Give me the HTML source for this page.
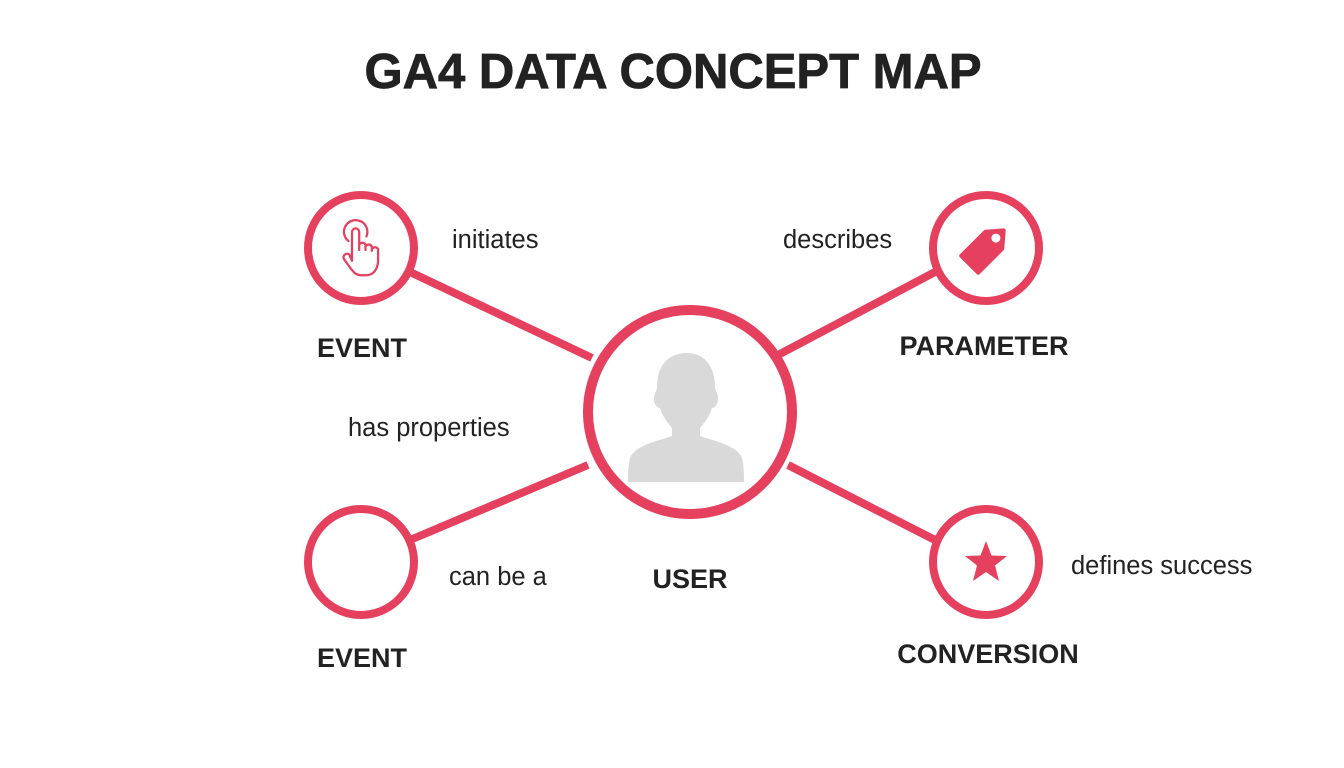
<!DOCTYPE html>
<html><head><meta charset="utf-8"><style>
html,body{margin:0;padding:0;background:#fff;}
svg{display:block}
text{font-family:"Liberation Sans",sans-serif;fill:#222}
</style></head><body>
<svg width="1344" height="768" viewBox="0 0 1344 768">
<text x="673" y="88" text-anchor="middle" font-size="49" font-weight="bold" fill="#222" stroke="#222" stroke-width="0.8">GA4 DATA CONCEPT MAP</text>
<g stroke="#e5405e" stroke-width="8" fill="none">
<line x1="410" y1="272" x2="592" y2="358"/>
<line x1="778" y1="355" x2="935" y2="272"/>
<line x1="410" y1="540" x2="588" y2="465"/>
<line x1="788" y1="465" x2="935" y2="540"/>
<circle cx="361" cy="248" r="53"/>
<circle cx="986" cy="248" r="53"/>
<circle cx="361" cy="562" r="53"/>
<circle cx="986" cy="562" r="53"/>
<circle cx="690" cy="412" r="102" stroke-width="10" fill="#fff"/>
</g>
<g fill="#d9d9d9">
<path d="M687 353c-20 0-30 14-30 34 0 4-3 6-3 12 0 6 4 9 6 9 3 10 9 16 12 20v8c-10 4-34 8-41 20-3 6-3 20-3 26h116c0-6 0-20-3-26-7-12-31-16-41-20v-8c3-4 9-10 12-20 2 0 6-3 6-9 0-6-3-8-3-12 0-20-10-34-28-34z"/>
</g>
<g stroke="#e5405e" stroke-width="2.5" fill="none" stroke-linecap="round" stroke-linejoin="round" transform="translate(361 250) scale(0.9) translate(-361 -250)">
<path d="M347 240a13 13 0 1 1 20 -5"/>
<path d="M351 262v-32a4 4 0 0 1 8 0v20v-6a4 4 0 0 1 7 0v6v-4a4 4 0 0 1 7 0v5v-2a4 4 0 0 1 7 0v12c0 10-5 17-13 17h-6c-5 0-8-3-11-7l-8-11a4 4 0 0 1 6-5z"/>
</g>
<g transform="rotate(-45 986 248)">
<path d="M963 236h34l14 12-14 12h-34z" fill="#e5405e" stroke="#e5405e" stroke-width="4" stroke-linejoin="round"/>
<circle cx="1000" cy="248" r="4.5" fill="#fff"/>
</g>
<polygon fill="#e5405e" points="986,541 991.5,555.5 1007,556 995,565.5 999,581 986,572 973,581 977,565.5 965,556 980.5,555.5"/>
<g font-size="25.5">
<text x="452" y="248">initiates</text>
<text x="783" y="248">describes</text>
<text x="348" y="436">has properties</text>
<text x="449" y="585">can be a</text>
<text x="1071" y="574">defines success</text>
</g>
<g font-size="27" font-weight="bold">
<text x="362" y="357" text-anchor="middle">EVENT</text>
<text x="984" y="355" text-anchor="middle">PARAMETER</text>
<text x="690" y="588" text-anchor="middle">USER</text>
<text x="362" y="667" text-anchor="middle">EVENT</text>
<text x="988" y="663" text-anchor="middle">CONVERSION</text>
</g>
</svg>
</body></html>
